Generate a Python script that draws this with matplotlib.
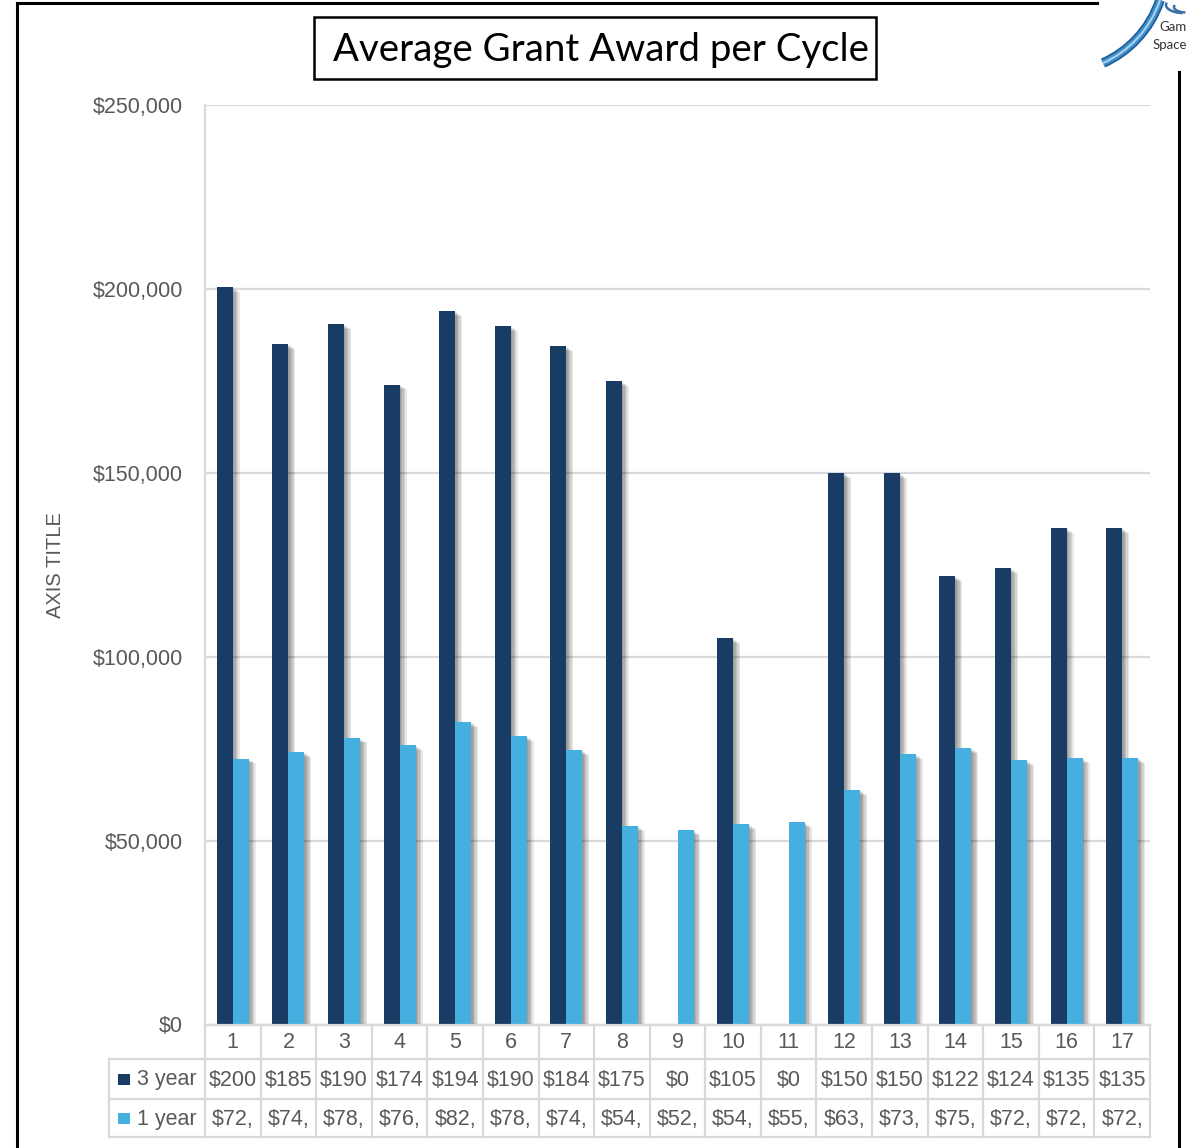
import matplotlib
matplotlib.use("Agg")
import matplotlib.pyplot as plt
import matplotlib.patheffects as pe
from matplotlib.transforms import blended_transform_factory
from matplotlib.patches import Rectangle
from matplotlib.path import Path
from matplotlib.patches import PathPatch
import numpy as np

# ---------------- data ----------------
categories = [str(i) for i in range(1, 18)]
series_names = ["3 year", "1 year"]
three_year = [200500, 185000, 190500, 174000, 194000, 190000, 184500, 175000, 0,
              105000, 0, 150000, 150000, 122000, 124000, 135000, 135000]
one_year = [72300, 74000, 78000, 76000, 82200, 78400, 74600, 54000, 52900,
            54500, 55100, 63800, 73500, 75200, 72000, 72500, 72500]
yticks = [0, 50000, 100000, 150000, 200000, 250000]
title = "Average Grant Award per Cycle"
ylabel = "AXIS TITLE"

DARK = "#183C64"
LIGHT = "#45AFE0"
GRID = "#D9D9D9"
TXT = "#595959"

W, H = 1186, 1148
fig = plt.figure(figsize=(W / 100, H / 100), dpi=100)
plt.rcParams["font.family"] = ["Liberation Sans", "DejaVu Sans"]

def fx(x):
    return x / W

def fy(y):
    return 1 - y / H

# main axes in pixel layout
L, R, T, B = 205, 1150, 105, 1024.5
ax = fig.add_axes([fx(L), fy(B), fx(R) - fx(L), fy(T) - fy(B)])
ax.set_xlim(-0.5, len(categories) - 0.5)
ax.set_ylim(0, 250000)

x = np.arange(len(categories))
bw = 0.288
shadow = [pe.SimplePatchShadow(offset=(k, -0.7 * k), shadow_rgbFace="black", alpha=0.09)
          for k in (1, 2, 3, 4, 5)] + [pe.Normal()]
b1 = ax.bar(x - bw / 2, three_year, width=bw, color=DARK, zorder=3)
b2 = ax.bar(x + bw / 2, one_year, width=bw, color=LIGHT, zorder=3)
for bars in (b1, b2):
    for p in bars:
        p.set_path_effects(shadow)

ax.set_yticks(yticks)
ax.set_yticklabels([f"${v:,.0f}" for v in yticks], fontsize=15.5, color=TXT)
ax.tick_params(axis="y", length=0, pad=16)
ax.set_xticks([])
ax.grid(axis="y", color=GRID, linewidth=1.6, zorder=0)
ax.set_axisbelow(True)
for s in ("top", "right"):
    ax.spines[s].set_visible(False)
ax.spines["left"].set_color(GRID)
ax.spines["left"].set_linewidth(1.6)
ax.spines["bottom"].set_color(GRID)
ax.spines["bottom"].set_linewidth(1.6)
ax.set_ylabel(ylabel, fontsize=14.5, color=TXT, labelpad=0)
ax.yaxis.set_label_coords((65 - L) / (R - L), (B - 565) / (B - T))

# overlay axes in pixel coordinates
ov = fig.add_axes([0, 0, 1, 1], zorder=5)
ov.set_xlim(0, W)
ov.set_ylim(H, 0)
ov.axis("off")
ov.patch.set_alpha(0)

tr = blended_transform_factory(ax.transData, ov.transData)

# ---------------- data table ----------------
rows_y = [1024.5, 1059, 1099, 1137]
tab_left = 109
n = len(categories)
lw_t = 1.6
ov.plot([L, R], [rows_y[0], rows_y[0]], color=GRID, lw=lw_t)
for yy in rows_y[1:]:
    ov.plot([tab_left, R], [yy, yy], color=GRID, lw=lw_t)
for i in range(n + 1):
    ov.plot([i - 0.5, i - 0.5], [rows_y[0], rows_y[3]], color=GRID, lw=lw_t, transform=tr)
ov.plot([tab_left, tab_left], [rows_y[1], rows_y[3]], color=GRID, lw=lw_t)

for i, c in enumerate(categories):
    ov.text(i, (rows_y[0] + rows_y[1]) / 2 + 1, c, transform=tr, ha="center", va="center",
            fontsize=15.5, color=TXT)

def cell_label(v):
    return f"${v:,.0f}"[:4]

for r, (name, vals, col) in enumerate(zip(series_names, [three_year, one_year], [DARK, LIGHT])):
    yc = (rows_y[r + 1] + rows_y[r + 2]) / 2 + 1
    ov.add_patch(Rectangle((118, yc - 6.5), 11.5, 11.5, color=col, lw=0))
    ov.text(137, yc, name, ha="left", va="center", fontsize=15.5, color=TXT)
    for i, v in enumerate(vals):
        ov.text(i, yc, cell_label(v), transform=tr, ha="center", va="center",
                fontsize=15.5, color=TXT)

# ---------------- frame ----------------
ov.plot([16.5, 16.5], [2.5, H], color="black", lw=2.2)
ov.plot([16.5, 1097], [2.5, 2.5], color="black", lw=2.2)
ov.plot([1178.5, 1178.5], [72, H], color="black", lw=2.2)

# ---------------- title box ----------------
ov.add_patch(Rectangle((314, 16.7), 876 - 314, 79 - 16.7, fill=False, ec="black", lw=1.8))
tt = ov.text(601, 60.5, title, ha="center", va="baseline", fontsize=26,
             family=["Lato", "DejaVu Sans"], color="black")
fig.canvas.draw()
bb = tt.get_window_extent()
tt.set_fontsize(26 * 533 / bb.width)

# ---------------- logo ----------------
verts = [(1103, 63), (1128, 52), (1150, 30), (1160, 0)]
codes = [Path.MOVETO, Path.CURVE4, Path.CURVE4, Path.CURVE4]
for lw_, c_ in [(7, "#1F5E9A"), (4.5, "#3F8FC8"), (1.5, "#A8D2EE")]:
    ov.add_patch(PathPatch(Path(verts, codes), fill=False, ec=c_, lw=lw_, capstyle="butt"))
for cx, cy, rr in [(1184, 5, 18), (1186, 7, 12)]:
    th = np.linspace(np.pi * 0.55, np.pi * 1.05, 30)
    ov.plot(cx + rr * np.cos(th), cy + rr * 0.45 * np.sin(th), color="#3A6FA8", lw=1.8)
ov.text(1159, 31, "Gam", ha="left", va="baseline", fontsize=9.5, color="#333333",
        family=["Lato", "DejaVu Sans"])
ov.text(1153, 49, "Space", ha="left", va="baseline", fontsize=9.5, color="#333333",
        family=["Lato", "DejaVu Sans"])

fig.savefig("out.png", dpi=100)
